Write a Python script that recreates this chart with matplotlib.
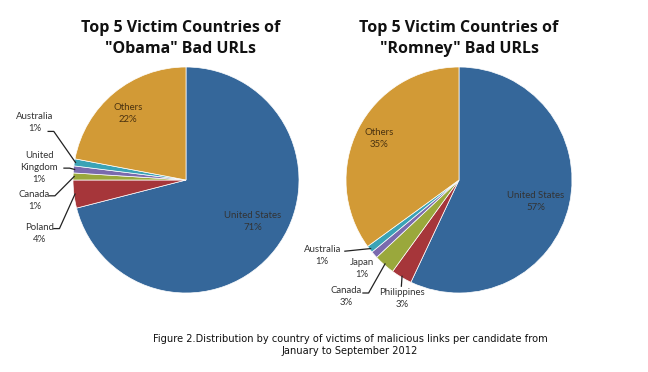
import numpy as np
import matplotlib
matplotlib.use("Agg")
import matplotlib.pyplot as plt

# data (clockwise from 12 o'clock)
obama_labels = ["United States", "Poland", "Canada", "United\nKingdom", "Australia", "Others"]
obama_values = [71, 4, 1, 1, 1, 22]
romney_labels = ["United States", "Philippines", "Canada", "Japan", "Australia", "Others"]
romney_values = [57, 3, 3, 1, 1, 35]

c_us = "#35679a"
c_red = "#a6363a"
c_olive = "#9aa83c"
c_purple = "#7a6aae"
c_teal = "#3aa3b6"
c_others = "#d29a36"
obama_colors = [c_us, c_red, c_olive, c_purple, c_teal, c_others]
romney_colors = [c_us, c_red, c_olive, c_purple, c_teal, c_others]

W, H = 648, 372
R = 113
lab_font = "Lato"
txt_col = "#333333"

fig = plt.figure(figsize=(W / 100, H / 100), dpi=100)
fig.patch.set_facecolor("white")


def pie_axes(cx, cy):
    ax = fig.add_axes([(cx - R) / W, (H - cy - R) / H, 2 * R / W, 2 * R / H])
    ax.axis("off")
    return ax


def fix_limits(ax):
    ax.set_xlim(-1, 1)
    ax.set_ylim(-1, 1)
    ax.set_aspect("equal")


def mid_point(wedge, r=1.0):
    a = np.deg2rad((wedge.theta1 + wedge.theta2) / 2)
    return r * np.cos(a), r * np.sin(a)


def slice_text(ax, x, y, s, pct, color=txt_col):
    ax.text(x, y, f"{s}\n{pct}%", ha="center", va="center", fontsize=6.9,
            family=lab_font, color=color, linespacing=1.4)


def leader(ax, wedge, pts):
    x0, y0 = mid_point(wedge, 0.99)
    xs = [p[0] for p in pts] + [x0]
    ys = [p[1] for p in pts] + [y0]
    ax.plot(xs, ys, color="#222222", lw=0.9, clip_on=False)


# ---- Obama ----
ax1 = pie_axes(186, 180)
w1, _ = ax1.pie(obama_values, colors=obama_colors, startangle=90, counterclock=False,
                radius=1, wedgeprops=dict(edgecolor="white", linewidth=0.5))
fix_limits(ax1)
for w in w1:
    w.set_clip_on(False)
slice_text(ax1, 0.59, -0.37, obama_labels[0], obama_values[0])
slice_text(ax1, -0.51, 0.59, obama_labels[5], obama_values[5], color="#4a3210")
slice_text(ax1, -1.34, 0.51, obama_labels[4], obama_values[4])
slice_text(ax1, -1.30, 0.11, obama_labels[3], obama_values[3])
slice_text(ax1, -1.34, -0.18, obama_labels[2], obama_values[2])
slice_text(ax1, -1.30, -0.47, obama_labels[1], obama_values[1])
leader(ax1, w1[4], [(-1.22, 0.43), (-1.17, 0.43)])
leader(ax1, w1[3], [(-1.08, 0.105), (-1.03, 0.105)])
leader(ax1, w1[2], [(-1.21, -0.14), (-1.16, -0.14)])
leader(ax1, w1[1], [(-1.17, -0.43), (-1.12, -0.43)])
ax1.text(-0.05, 1.25, "Top 5 Victim Countries of\n\"Obama\" Bad URLs", ha="center",
         va="center", fontsize=11.5, fontweight="bold", family="Open Sans",
         color="#111111", linespacing=1.4)

# ---- Romney ----
ax2 = pie_axes(459, 180)
w2, _ = ax2.pie(romney_values, colors=romney_colors, startangle=90, counterclock=False,
                radius=1, wedgeprops=dict(edgecolor="white", linewidth=0.5))
fix_limits(ax2)
for w in w2:
    w.set_clip_on(False)
slice_text(ax2, 0.68, -0.19, romney_labels[0], romney_values[0])
slice_text(ax2, -0.71, 0.37, romney_labels[5], romney_values[5], color="#4a3210")
slice_text(ax2, -1.21, -0.67, romney_labels[4], romney_values[4])
slice_text(ax2, -0.86, -0.78, romney_labels[3], romney_values[3])
slice_text(ax2, -1.00, -1.03, romney_labels[2], romney_values[2])
slice_text(ax2, -0.50, -1.05, romney_labels[1], romney_values[1])
leader(ax2, w2[4], [(-1.01, -0.63)])
leader(ax2, w2[2], [(-0.85, -1.00), (-0.80, -1.00)])
leader(ax2, w2[1], [(-0.51, -0.94)])
ax2.text(0.0, 1.25, "Top 5 Victim Countries of\n\"Romney\" Bad URLs", ha="center",
         va="center", fontsize=11.5, fontweight="bold", family="Open Sans",
         color="#111111", linespacing=1.4)

# caption
fig.text(350 / W, 1 - 345 / H,
         "Figure 2.Distribution by country of victims of malicious links per candidate from\n"
         "January to September 2012",
         ha="center", va="center", fontsize=7.1, family="DejaVu Sans", color="#111111",
         linespacing=1.2)

fig.savefig("out.png", dpi=100, facecolor="white")
